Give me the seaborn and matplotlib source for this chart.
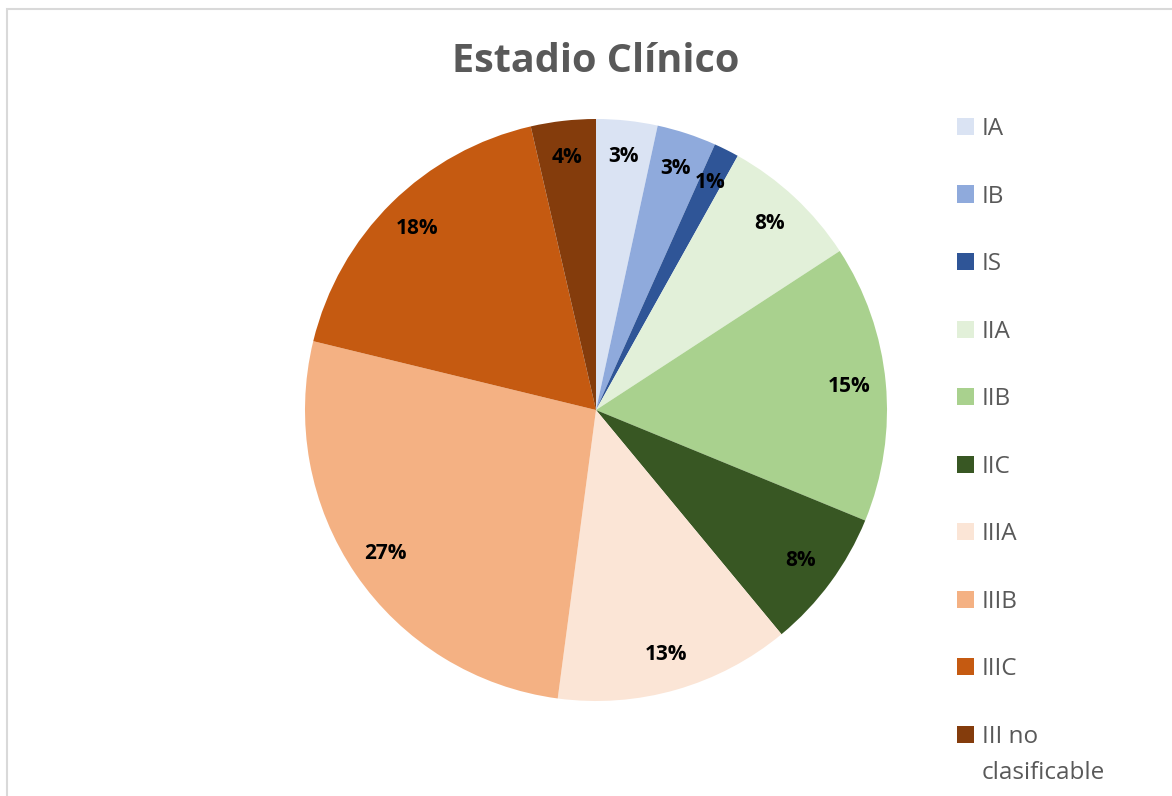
import matplotlib
matplotlib.use("Agg")
import matplotlib.pyplot as plt
from matplotlib.patches import Rectangle
import seaborn as sns

sns.set_theme(style="white")
plt.rcParams["font.family"] = ["Open Sans", "DejaVu Sans"]

# Clinical stage distribution (share of patients, %)
stages = ["IA", "IB", "IS", "IIA", "IIB", "IIC", "IIIA", "IIIB", "IIIC", "III no"]
stage_note = "clasificable"   # second line of the last stage name
shares = [3.4, 3.3, 1.4, 7.7, 15.4, 7.8, 13.1, 26.7, 17.6, 3.6]
colors = ["#DAE3F3", "#8FAADC", "#2F5597", "#E2F0D9", "#A9D18E",
          "#385723", "#FBE5D6", "#F4B183", "#C55A11", "#843C0C"]

W, H = 1172, 796
fig = plt.figure(figsize=(W / 100, H / 100), dpi=100)

# chart-area frame
fig.patches.append(Rectangle((7 / W, -0.05), 1.1, 787 / H + 0.05,
                             transform=fig.transFigure, fill=False,
                             edgecolor="#D9D9D9", linewidth=1.5))

cx, cy, r = 596, 410, 291
ax = fig.add_axes([(cx - r) / W, (H - cy - r) / H, 2 * r / W, 2 * r / H])

wedges, texts, autotexts = ax.pie(
    shares, colors=colors, startangle=90, counterclock=False,
    autopct="%.0f%%", pctdistance=0.875, radius=1.0,
    wedgeprops=dict(linewidth=0),
    textprops=dict(fontsize=15, fontweight="bold", color="black"))
ax.set_xlim(-1, 1)
ax.set_ylim(-1, 1)
ax.set_aspect("equal")
ax.axis("off")

fig.text(cx / W, 1 - 61 / H, "Estadio Clínico", ha="center", va="center",
         fontsize=28.5, fontweight="bold", color="#595959")

leg_fs = 17.5
leg = fig.legend(wedges, stages, loc="upper left",
                 bbox_to_anchor=(957 / W, 1 - 117 / H),
                 frameon=False, fontsize=leg_fs, labelcolor="#595959",
                 handlelength=0.7, handleheight=0.7, handletextpad=0.33,
                 labelspacing=1.79, borderpad=0, borderaxespad=0)

# wrap the last legend entry onto a second line under its first line
fig.canvas.draw()
last = leg.get_texts()[-1]
bb = last.get_window_extent()
line_gap = 36
fig.text(bb.x0 / W, ((bb.y0 + bb.y1) / 2 - line_gap) / H, stage_note,
         ha="left", va="center", fontsize=leg_fs, color="#595959")

fig.savefig("out.png", dpi=100, facecolor="white")
